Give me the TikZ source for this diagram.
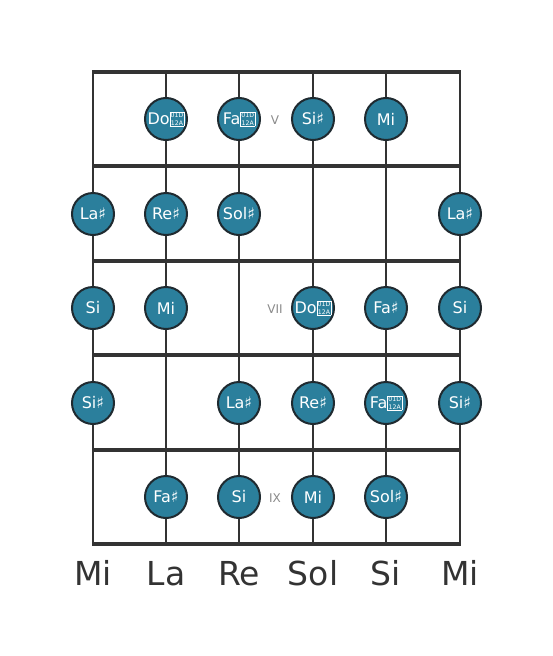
\documentclass[tikz,border=0pt]{standalone}
\usepackage{fontspec}
\setmainfont{DejaVu Sans}
\definecolor{notefill}{HTML}{2B7F9C}
\definecolor{noteedge}{HTML}{1F2A30}
\definecolor{ln}{HTML}{333333}
\definecolor{romangray}{HTML}{8A8A8A}
\newcommand{\shp}{♯}
\newcommand{\dshp}{\raisebox{-1pt}{\setlength{\fboxsep}{0.7pt}\setlength{\fboxrule}{0.4pt}\fbox{\fontsize{6.2}{5.6}\selectfont\shortstack{01D\\12A}}}}
\begin{document}
\begin{tikzpicture}[x=1pt,y=-1pt,
  notec/.style={circle,draw=noteedge,fill=notefill,line width=2pt,minimum size=42pt,inner sep=0pt,text=white,font=\fontsize{16}{16}\selectfont},
  fretl/.style={line width=4pt,draw=ln},
  strl/.style={line width=2.2pt,draw=ln},
  roman/.style={text=romangray,font=\fontsize{12}{12}\selectfont},
  base/.style={text=ln,font=\fontsize{33}{33}\selectfont,anchor=base}]
\useasboundingbox (0,0) rectangle (553,656);
% strings
\foreach \x in {93,166,239,313,386,460} \draw[strl] (\x,72) -- (\x,544);
% frets
\foreach \y in {72,166,261,355,450,544} \draw[fretl] (92,\y) -- (461,\y);
% row 1
\node[notec] (r1a) at (166,119) {Do\dshp};
\node[notec] (r1b) at (239,119) {Fa\dshp};
\node[roman] (rv) at (275,120) {V};
\node[notec] (r1c) at (313,119) {Si\shp};
\node[notec] (r1d) at (386,119) {Mi};
% row 2
\node[notec] (r2a) at (93,214) {La\shp};
\node[notec] (r2b) at (166,214) {Re\shp};
\node[notec] (r2c) at (239,214) {Sol\shp};
\node[notec] (r2d) at (460,214) {La\shp};
% row 3
\node[notec] (r3a) at (93,308) {Si};
\node[notec] (r3b) at (166,308) {Mi};
\node[roman] (rvii) at (275,309) {VII};
\node[notec] (r3c) at (313,308) {Do\dshp};
\node[notec] (r3d) at (386,308) {Fa\shp};
\node[notec] (r3e) at (460,308) {Si};
% row 4
\node[notec] (r4a) at (93,403) {Si\shp};
\node[notec] (r4b) at (239,403) {La\shp};
\node[notec] (r4c) at (313,403) {Re\shp};
\node[notec] (r4d) at (386,403) {Fa\dshp};
\node[notec] (r4e) at (460,403) {Si\shp};
% row 5
\node[notec] (r5a) at (166,497) {Fa\shp};
\node[notec] (r5b) at (239,497) {Si};
\node[roman] (rix) at (275,498) {IX};
\node[notec] (r5c) at (313,497) {Mi};
\node[notec] (r5d) at (386,497) {Sol\shp};
% string names
\node[base] (s1) at (93,585) {Mi};
\node[base] (s2) at (166,585) {La};
\node[base] (s3) at (239,585) {Re};
\node[base] (s4) at (313,585) {Sol};
\node[base] (s5) at (386,585) {Si};
\node[base] (s6) at (460,585) {Mi};
\end{tikzpicture}
\end{document}
